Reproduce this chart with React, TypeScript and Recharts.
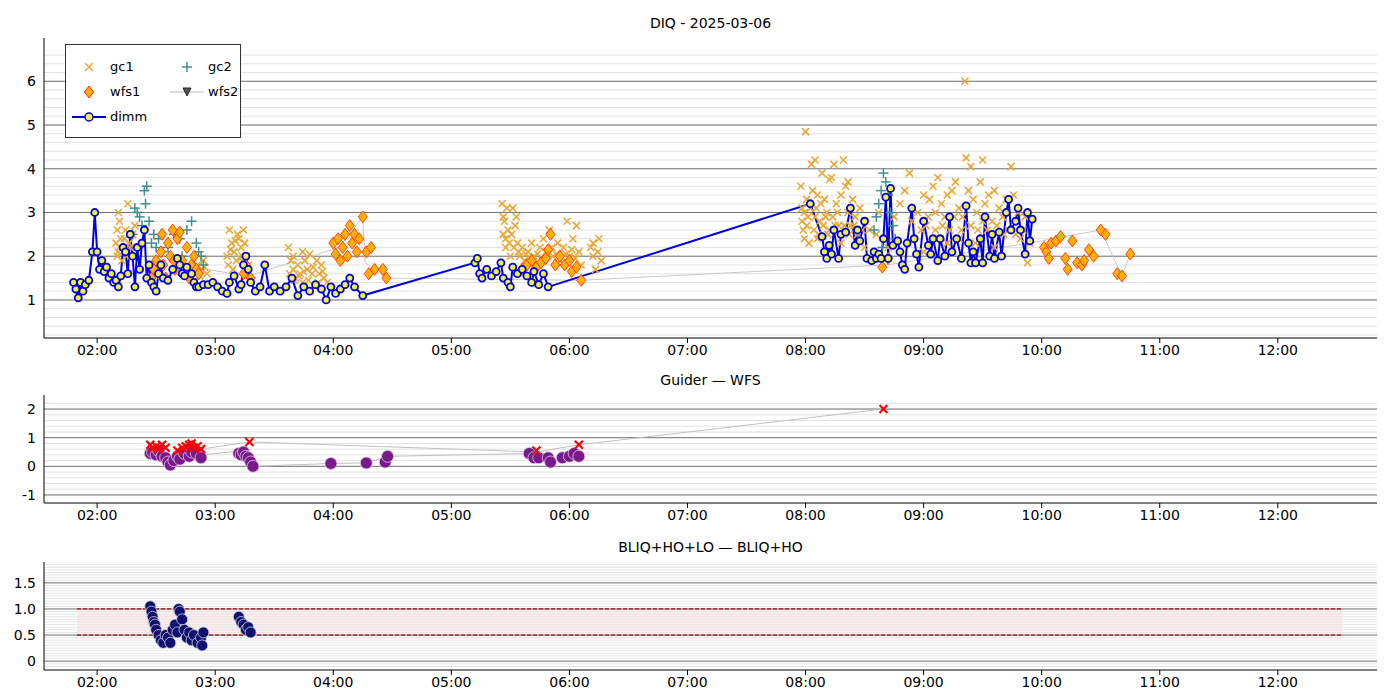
import React from 'react';
import {
  ComposedChart,
  Scatter,
  Line,
  XAxis,
  YAxis,
  ReferenceLine,
  ReferenceArea,
} from 'recharts';

type P = [number, number];

const hourTicks = [2, 3, 4, 5, 6, 7, 8, 9, 10, 11, 12];

const dimm: P[] = [
  [1.8, 1.4], [1.82, 1.25], [1.84, 1.05], [1.86, 1.4], [1.88, 1.2], [1.9, 1.35], [1.93, 1.45], [1.96, 2.1], [1.98, 3.0],
  [2.0, 2.1], [2.02, 1.7], [2.04, 1.9], [2.06, 1.65], [2.08, 1.75], [2.1, 1.5], [2.12, 1.6], [2.14, 1.4], [2.16, 1.45],
  [2.18, 1.3], [2.2, 1.55], [2.22, 2.2], [2.24, 2.1], [2.26, 1.6], [2.28, 2.5], [2.3, 2.0], [2.32, 1.3], [2.34, 2.2],
  [2.36, 1.7], [2.38, 2.3], [2.4, 2.6], [2.42, 1.5], [2.44, 1.8], [2.46, 1.4], [2.48, 1.3], [2.5, 1.2], [2.52, 1.6],
  [2.54, 1.8], [2.56, 1.5], [2.6, 1.45], [2.64, 1.7], [2.68, 1.95], [2.7, 1.8], [2.72, 1.6], [2.74, 1.55], [2.76, 1.75],
  [2.8, 1.6], [2.82, 1.4], [2.84, 1.3], [2.86, 1.3], [2.9, 1.35], [2.94, 1.35], [2.98, 1.4], [3.02, 1.3], [3.06, 1.2],
  [3.1, 1.15], [3.12, 1.4], [3.16, 1.55], [3.2, 1.25], [3.22, 1.35], [3.24, 1.8], [3.26, 2.0], [3.28, 1.7], [3.3, 1.4],
  [3.34, 1.2], [3.38, 1.3], [3.42, 1.8], [3.46, 1.2], [3.5, 1.3], [3.55, 1.2], [3.6, 1.3], [3.65, 1.5], [3.7, 1.1],
  [3.75, 1.3], [3.8, 1.2], [3.85, 1.35], [3.9, 1.25], [3.94, 1.0], [3.98, 1.3], [4.02, 1.15], [4.06, 1.25], [4.1, 1.35],
  [4.14, 1.5], [4.18, 1.3], [4.25, 1.1], [5.2, 1.85], [5.22, 1.95], [5.24, 1.6], [5.26, 1.5], [5.3, 1.7], [5.34, 1.55],
  [5.38, 1.65], [5.42, 1.85], [5.44, 1.5], [5.48, 1.4], [5.5, 1.3], [5.52, 1.75], [5.56, 1.6], [5.6, 1.7], [5.64, 1.55],
  [5.68, 1.4], [5.7, 1.65], [5.74, 1.35], [5.78, 1.6], [5.82, 1.3], [8.04, 3.2], [8.14, 2.45], [8.16, 2.1], [8.18, 1.95],
  [8.2, 2.25], [8.22, 2.05], [8.24, 2.6], [8.28, 1.95], [8.3, 2.5], [8.34, 2.55], [8.38, 3.1], [8.42, 2.25], [8.44, 2.6],
  [8.46, 2.35], [8.5, 2.8], [8.52, 1.95], [8.56, 1.9], [8.58, 2.1], [8.6, 1.95], [8.62, 2.05], [8.64, 1.95], [8.66, 2.4],
  [8.68, 3.35], [8.7, 1.95], [8.72, 3.55], [8.74, 2.25], [8.78, 2.35], [8.8, 2.1], [8.82, 1.8], [8.84, 1.7], [8.86, 2.3],
  [8.9, 3.1], [8.92, 2.4], [8.94, 2.05], [8.96, 1.75], [9.0, 2.8], [9.04, 2.25], [9.06, 2.05], [9.08, 2.4], [9.12, 1.9],
  [9.14, 2.4], [9.18, 2.0], [9.22, 2.9], [9.24, 2.1], [9.28, 2.4], [9.32, 1.95], [9.36, 3.15], [9.38, 2.3], [9.4, 1.85],
  [9.42, 2.1], [9.44, 1.85], [9.48, 2.4], [9.5, 1.85], [9.52, 2.9], [9.56, 2.0], [9.58, 2.5], [9.6, 1.95], [9.64, 2.55],
  [9.66, 2.0], [9.7, 3.0], [9.72, 3.3], [9.74, 2.6], [9.78, 2.8], [9.8, 3.1], [9.82, 2.6], [9.86, 2.05], [9.88, 3.0],
  [9.9, 2.35], [9.92, 2.85],
];

const gc1: P[] = [
  [2.16, 2.3], [2.17, 2.6], [2.18, 3.0], [2.19, 2.8], [2.2, 2.4], [2.22, 2.1], [2.24, 2.6], [2.26, 3.2], [2.28, 2.2],
  [2.3, 2.5], [2.32, 2.7], [2.18, 2.1], [2.21, 1.9], [2.17, 2.0], [2.19, 2.2], [2.23, 2.4], [2.25, 2.0], [2.27, 2.3],
  [2.85, 1.8], [2.88, 1.7], [2.9, 1.9], [2.93, 1.6], [2.87, 1.55], [2.91, 1.75],
  [3.1, 2.0], [3.12, 2.6], [3.14, 2.3], [3.16, 2.1], [3.18, 1.9], [3.2, 2.4], [3.22, 2.2], [3.24, 2.6], [3.26, 2.0],
  [3.28, 1.8], [3.15, 1.7], [3.19, 2.5], [3.25, 2.3], [3.11, 1.8], [3.13, 2.15], [3.17, 2.35], [3.21, 1.95], [3.23, 2.0],
  [3.62, 2.2], [3.64, 1.9], [3.66, 1.7], [3.68, 1.5], [3.7, 1.8], [3.72, 1.6], [3.74, 1.4], [3.76, 1.9], [3.78, 1.7],
  [3.8, 2.05], [3.82, 1.6], [3.84, 1.3], [3.86, 1.9], [3.88, 1.6], [3.9, 1.8], [3.92, 1.5], [3.95, 1.4], [3.66, 2.0], [3.74, 2.1],
  [3.63, 1.6], [3.67, 1.45], [3.71, 1.55], [3.75, 1.65], [3.79, 1.45], [3.83, 1.75], [3.87, 1.4], [3.91, 1.65],
  [5.43, 3.2], [5.45, 2.8], [5.47, 3.1], [5.44, 2.5], [5.46, 2.2], [5.48, 2.6], [5.5, 2.0], [5.52, 3.1], [5.54, 2.7],
  [5.56, 2.3], [5.58, 2.0], [5.6, 2.2], [5.62, 1.9], [5.65, 2.1], [5.68, 2.3], [5.7, 2.0], [5.72, 1.8], [5.75, 2.2],
  [5.78, 2.4], [5.8, 2.1], [5.83, 2.6], [5.86, 2.0], [5.9, 2.3], [5.92, 1.9], [5.95, 2.2], [5.98, 2.8], [6.0, 2.0],
  [6.03, 2.4], [6.06, 2.7], [6.08, 2.1], [6.1, 1.8], [6.18, 2.2], [6.2, 2.0], [6.22, 1.7], [6.25, 2.4], [6.27, 1.9],
  [5.44, 2.9], [5.46, 2.4], [5.49, 2.3], [5.51, 2.5], [5.53, 2.2], [5.55, 2.9], [5.57, 2.1], [5.63, 2.05], [5.67, 1.95],
  [5.73, 2.05], [5.77, 1.9], [5.85, 2.2], [5.89, 2.05], [5.97, 2.05], [6.02, 2.15], [6.05, 1.95], [6.2, 2.3], [6.24, 2.1],
  [7.96, 3.6], [7.97, 3.1], [7.98, 2.6], [7.99, 2.4], [8.0, 4.85], [8.01, 3.3], [8.02, 2.9], [8.03, 2.3], [8.05, 4.1],
  [8.06, 3.5], [8.08, 4.2], [8.1, 3.4], [8.12, 2.8], [8.14, 3.9], [8.16, 3.3], [8.18, 3.0], [8.2, 3.75], [8.22, 3.8],
  [8.24, 4.1], [8.26, 3.2], [8.28, 2.7], [8.3, 3.4], [8.32, 4.2], [8.34, 3.6], [8.36, 3.0], [8.38, 2.7], [8.4, 3.3],
  [8.42, 2.9], [8.44, 2.5], [8.46, 3.1], [8.5, 2.8], [8.54, 2.6], [8.6, 2.5], [8.62, 3.0], [8.75, 2.9], [8.8, 3.2],
  [8.84, 3.5], [8.88, 3.9], [8.9, 2.8], [8.95, 3.0], [9.0, 3.4], [9.02, 2.7], [9.05, 3.3], [9.08, 3.6], [9.1, 3.0],
  [9.12, 3.8], [9.15, 3.2], [9.18, 2.9], [9.2, 3.4], [9.24, 3.5], [9.27, 3.7], [9.3, 3.1], [9.33, 2.9], [9.35, 6.0],
  [9.36, 4.25], [9.38, 3.5], [9.4, 4.05], [9.42, 3.3], [9.45, 3.0], [9.48, 3.7], [9.5, 4.2], [9.52, 3.2], [9.55, 3.4],
  [9.58, 2.8], [9.6, 3.5], [9.64, 3.1], [9.67, 2.9], [9.7, 3.3], [9.74, 4.05], [9.76, 3.4], [9.8, 3.0], [9.84, 2.6],
  [9.86, 2.9], [9.88, 1.85], [9.9, 2.3], [8.1, 2.4], [8.3, 2.3], [8.5, 2.2], [9.2, 2.3], [9.6, 2.2], [9.0, 2.1],
  [8.7, 2.2], [8.08, 2.9], [8.2, 2.6], [8.36, 3.7],
  [7.97, 2.8], [7.99, 3.0], [8.01, 2.7], [8.04, 3.1], [8.07, 2.6], [8.09, 3.1], [8.11, 2.5], [8.13, 3.2], [8.15, 2.7],
  [8.17, 2.9], [8.19, 2.5], [8.23, 2.9], [8.25, 2.7], [8.27, 3.0], [8.33, 2.7], [8.37, 2.5], [8.41, 2.7], [8.48, 2.6],
  [8.98, 2.6], [9.04, 2.9], [9.1, 2.6], [9.16, 2.7], [9.22, 2.6], [9.26, 2.9], [9.32, 2.6], [9.4, 2.7], [9.46, 2.6],
  [9.5, 2.8], [9.54, 2.6], [9.62, 2.7], [9.68, 2.5], [9.72, 2.6], [9.78, 2.5], [9.82, 2.4], [9.3, 2.4], [9.44, 2.3],
];

const gc2: P[] = [
  [2.3, 2.5], [2.32, 3.1], [2.34, 3.0], [2.36, 2.9], [2.38, 2.7], [2.4, 3.5], [2.42, 3.6], [2.41, 3.2], [2.44, 2.8],
  [2.46, 2.3], [2.48, 2.5], [2.5, 2.2], [2.52, 2.4], [2.55, 2.1], [2.6, 2.2], [2.65, 2.5], [2.7, 2.4], [2.72, 2.0],
  [2.76, 2.6], [2.8, 2.8], [2.84, 2.3], [2.86, 2.1], [2.88, 2.0], [2.9, 1.8], [8.58, 2.6], [8.6, 2.9], [8.62, 3.2],
  [8.64, 3.5], [8.66, 3.9], [8.68, 3.7], [8.7, 3.4], [8.72, 3.0], [8.74, 2.7], [8.76, 2.4], [8.65, 2.2],
];

const wfs1: P[] = [
  [2.46, 1.5], [2.48, 1.7], [2.5, 1.9], [2.52, 1.6], [2.54, 2.1], [2.56, 1.8], [2.58, 1.5], [2.6, 2.3], [2.62, 2.0],
  [2.64, 2.6], [2.66, 1.7], [2.68, 2.4], [2.7, 2.55], [2.72, 1.9], [2.74, 1.6], [2.76, 2.2], [2.78, 1.5], [2.8, 1.8],
  [2.82, 2.0], [2.84, 1.7], [2.86, 1.6], [2.55, 2.5], [2.65, 1.9], [3.24, 1.6], [3.26, 1.8], [3.3, 1.5],
  [4.0, 2.3], [4.02, 2.05], [4.04, 2.4], [4.06, 1.9], [4.08, 2.2], [4.1, 2.5], [4.12, 2.0], [4.14, 2.7], [4.16, 2.3],
  [4.18, 2.5], [4.2, 2.1], [4.22, 2.4], [4.25, 2.9], [4.28, 2.1], [4.3, 1.6], [4.32, 2.2], [4.35, 1.7], [4.42, 1.7],
  [4.45, 1.5], [5.6, 1.7], [5.64, 1.8], [5.68, 1.9], [5.72, 1.75], [5.76, 1.85], [5.8, 1.95], [5.82, 2.15],
  [5.84, 2.5], [5.88, 1.8], [5.92, 2.0], [5.96, 1.8], [6.0, 1.9], [6.02, 1.65], [6.06, 1.75], [6.1, 1.45],
  [8.65, 1.75], [8.7, 1.95], [10.02, 2.2], [10.04, 2.1], [10.06, 1.95], [10.08, 2.3], [10.12, 2.35], [10.16, 2.45],
  [10.2, 1.95], [10.22, 1.7], [10.26, 2.35], [10.3, 1.85], [10.34, 1.8], [10.36, 1.9], [10.4, 2.15], [10.44, 2.0],
  [10.5, 2.6], [10.54, 2.5], [10.64, 1.6], [10.68, 1.55], [10.75, 2.05],
];

const wfs2: P[] = [
  [2.5, 1.5], [2.92, 1.7], [3.28, 1.55], [4.05, 2.2], [4.25, 2.9], [4.27, 1.85], [4.45, 1.5], [6.1, 1.45],
  [8.68, 1.8], [9.9, 2.3], [10.5, 2.6], [10.68, 1.55], [10.75, 2.05],
];

const guider: P[] = [
  [2.45, 0.45], [2.47, 0.5], [2.5, 0.4], [2.52, 0.55], [2.55, 0.35], [2.58, 0.3], [2.6, 0.15], [2.62, 0.05],
  [2.65, 0.2], [2.68, 0.35], [2.7, 0.25], [2.74, 0.45], [2.78, 0.35], [2.8, 0.5], [2.84, 0.45], [2.88, 0.3],
  [3.2, 0.45], [3.22, 0.4], [3.24, 0.5], [3.26, 0.35], [3.28, 0.3], [3.3, 0.15], [3.32, 0.0], [3.98, 0.1],
  [4.28, 0.12], [4.44, 0.15], [4.46, 0.35], [5.66, 0.45], [5.7, 0.3], [5.74, 0.3], [5.82, 0.3], [5.84, 0.15],
  [5.94, 0.3], [6.0, 0.35], [6.04, 0.45], [6.08, 0.35],
];
const guiderPath: P[] = [[2.88, 0.4], [3.25, 0.55], [3.32, 0.0], [3.98, 0.1], [4.28, 0.12], [4.46, 0.35], [5.7, 0.45]];

const wfsDiff: P[] = [
  [2.45, 0.75], [2.47, 0.65], [2.5, 0.7], [2.52, 0.6], [2.55, 0.75], [2.58, 0.65], [2.68, 0.55], [2.72, 0.65],
  [2.75, 0.7], [2.78, 0.75], [2.8, 0.8], [2.82, 0.65], [2.85, 0.7], [2.88, 0.6], [3.29, 0.85], [5.72, 0.55],
  [6.08, 0.75], [8.66, 2.0],
];
const wfsPath: P[] = [[2.88, 0.6], [3.29, 0.85], [5.72, 0.5], [6.08, 0.75], [8.66, 2.0]];

const bliq: P[] = [
  [2.45, 1.05], [2.46, 0.95], [2.47, 0.85], [2.48, 0.75], [2.49, 0.7], [2.5, 0.6], [2.52, 0.5], [2.54, 0.4],
  [2.56, 0.35], [2.58, 0.5], [2.6, 0.45], [2.62, 0.35], [2.64, 0.6], [2.66, 0.7], [2.68, 0.55], [2.69, 1.0],
  [2.7, 0.95], [2.72, 0.8], [2.74, 0.6], [2.76, 0.45], [2.78, 0.55], [2.8, 0.4], [2.82, 0.5], [2.85, 0.35],
  [2.88, 0.45], [2.9, 0.55], [2.89, 0.3], [3.2, 0.85], [3.22, 0.75], [3.24, 0.7], [3.26, 0.6], [3.28, 0.65], [3.3, 0.55],
];

const toPts = (a: P[]) => a.map(([t, v]) => ({ t, v }));
const fmtHour = (h: number) => `${String(h).padStart(2, '0')}:00`;
const FONT = 'DejaVu Sans, sans-serif';
const tickStyle = { fontSize: 14, fill: '#000', fontFamily: FONT };

const XMark = (color: string, size: number, w: number) => (p: any) => (
  <g stroke={color} strokeWidth={w}>
    <line x1={p.cx - size} y1={p.cy - size} x2={p.cx + size} y2={p.cy + size} />
    <line x1={p.cx - size} y1={p.cy + size} x2={p.cx + size} y2={p.cy - size} />
  </g>
);
const PlusMark = (p: any) => (
  <g stroke="#3f8f8f" strokeWidth={1.5}>
    <line x1={p.cx - 5} y1={p.cy} x2={p.cx + 5} y2={p.cy} />
    <line x1={p.cx} y1={p.cy - 5} x2={p.cx} y2={p.cy + 5} />
  </g>
);
const Diamond = (p: any) => (
  <path d={`M${p.cx},${p.cy - 6}L${p.cx + 4.5},${p.cy}L${p.cx},${p.cy + 6}L${p.cx - 4.5},${p.cy}Z`}
    fill="#ffb000" stroke="#ff2000" strokeWidth={0.8} />
);
const Dot = (fill: string, stroke: string, r: number) => (p: any) => (
  <circle cx={p.cx} cy={p.cy} r={r} fill={fill} stroke={stroke} strokeWidth={0.8} />
);

function minorLines(lo: number, hi: number, step: number) {
  const out: number[] = [];
  for (let i = Math.ceil(lo / step); i * step <= hi; i++) out.push(+(i * step).toFixed(3));
  return out;
}

const xAxis = (h: number) => (
  <XAxis type="number" dataKey="t" domain={[1.55, 12.84]} ticks={hourTicks} tickFormatter={fmtHour}
    allowDataOverflow height={h} tick={tickStyle} stroke="#000" tickLine={{ stroke: '#000' }} tickSize={5} />
);

const Title = ({ top, text }: { top: number; text: string }) => (
  <div style={{ position: 'absolute', top, left: 44, width: 1333, textAlign: 'center', fontFamily: FONT, fontSize: 14 }}>
    {text}
  </div>
);

const LegendBox = () => {
  const item = (sym: React.ReactNode, label: string) => (
    <div style={{ display: 'flex', alignItems: 'center', height: 25 }}>
      <svg width={34} height={14}>{sym}</svg>
      <span style={{ marginLeft: 4 }}>{label}</span>
    </div>
  );
  return (
    <div style={{ position: 'absolute', left: 65, top: 44, width: 176, height: 94, border: '1px solid #333',
      background: '#fff', fontFamily: FONT, fontSize: 13, padding: '9px 0 0 6px', boxSizing: 'border-box' }}>
      <div style={{ display: 'flex' }}>
        <div style={{ width: 98 }}>
          {item(<g stroke="#e8a838" strokeWidth={1.5}><line x1={13} y1={3} x2={21} y2={11} /><line x1={13} y1={11} x2={21} y2={3} /></g>, 'gc1')}
          {item(<path d="M17,1L21.5,7L17,13L12.5,7Z" fill="#ffb000" stroke="#ff2000" />, 'wfs1')}
        </div>
        <div>
          {item(<g stroke="#3f8f8f" strokeWidth={1.5}><line x1={12} y1={7} x2={22} y2={7} /><line x1={17} y1={2} x2={17} y2={12} /></g>, 'gc2')}
          {item(<g><line x1={0} y1={7} x2={34} y2={7} stroke="#bbb" /><path d="M13,3L21,3L17,11Z" fill="#555" stroke="#222" /></g>, 'wfs2')}
        </div>
      </div>
      {item(<g><line x1={0} y1={7} x2={34} y2={7} stroke="#0000dd" strokeWidth={2} /><circle cx={17} cy={7} r={4} fill="#f0f040" stroke="#0000dd" strokeWidth={1.5} /></g>, 'dimm')}
    </div>
  );
};

export default function App() {
  return (
    <div style={{ position: 'absolute', left: 0, top: 0, width: 1400, height: 700, background: '#fff' }}>
      <Title top={15} text="DIQ - 2025-03-06" />
      <div style={{ position: 'absolute', left: 0, top: 0 }}>
        <ComposedChart width={1400} height={365} margin={{ top: 38, right: 23, bottom: 0, left: 4 }}>
          {minorLines(0.2, 6.8, 0.2).map((y) => (
            <ReferenceLine key={y} y={y} stroke="#e2e2e2" strokeWidth={1} />
          ))}
          {[1, 2, 3, 4, 5, 6].map((y) => (
            <ReferenceLine key={'m' + y} y={y} stroke="#777" strokeWidth={1} />
          ))}
          {xAxis(27)}
          <YAxis type="number" dataKey="v" domain={[0.13, 6.99]} ticks={[1, 2, 3, 4, 5, 6]} width={40}
            allowDataOverflow tick={tickStyle} stroke="#000" tickLine={false} />
          <Line data={toPts(wfs2)} dataKey="v" stroke="#c8c8c8" strokeWidth={1} dot={false} isAnimationActive={false} />
          <Scatter data={toPts(gc1)} fill="#e8a838" shape={XMark('#e8a838', 3.5, 1.6)} isAnimationActive={false} />
          <Scatter data={toPts(gc2)} fill="#3f8f8f" shape={PlusMark} isAnimationActive={false} />
          <Scatter data={toPts(wfs1)} fill="#ffb000" shape={Diamond} isAnimationActive={false} />
          <Line data={toPts(dimm)} dataKey="v" stroke="#0000dd" strokeWidth={2}
            dot={{ r: 3.5, fill: '#f0f040', stroke: '#0000dd', strokeWidth: 1.8 }} isAnimationActive={false} />
        </ComposedChart>
      </div>
      <LegendBox />

      <Title top={372} text="Guider — WFS" />
      <div style={{ position: 'absolute', left: 0, top: 360 }}>
        <ComposedChart width={1400} height={170} margin={{ top: 35, right: 23, bottom: 0, left: 4 }}>
          {minorLines(-1.2, 2.4, 0.2).map((y) => (
            <ReferenceLine key={y} y={y} stroke="#e2e2e2" strokeWidth={1} />
          ))}
          {[-1, 0, 1, 2].map((y) => (
            <ReferenceLine key={'m' + y} y={y} stroke="#777" strokeWidth={1} />
          ))}
          {xAxis(27)}
          <YAxis type="number" dataKey="v" domain={[-1.28, 2.49]} ticks={[-1, 0, 1, 2]} width={40}
            allowDataOverflow tick={tickStyle} stroke="#000" tickLine={false} />
          <Line data={toPts(guiderPath)} dataKey="v" stroke="#c0c0c0" strokeWidth={1} dot={false} isAnimationActive={false} />
          <Line data={toPts(wfsPath)} dataKey="v" stroke="#c0c0c0" strokeWidth={1} dot={false} isAnimationActive={false} />
          <Scatter data={toPts(guider)} fill="#7a1a8a" shape={Dot('#7a1a8a', '#e0c8e8', 6)} isAnimationActive={false} />
          <Scatter data={toPts(wfsDiff)} fill="#ff0000" shape={XMark('#ff0000', 4, 2.2)} isAnimationActive={false} />
        </ComposedChart>
      </div>

      <Title top={539} text="BLIQ+HO+LO — BLIQ+HO" />
      <div style={{ position: 'absolute', left: 0, top: 530 }}>
        <ComposedChart width={1400} height={170} margin={{ top: 32, right: 23, bottom: 0, left: 4 }}>
          {minorLines(-0.15, 1.9, 0.05).map((y) => (
            <ReferenceLine key={y} y={y} stroke="#e6e6e6" strokeWidth={1} />
          ))}
          {[0, 0.5, 1, 1.5].map((y) => (
            <ReferenceLine key={'m' + y} y={y} stroke="#777" strokeWidth={1} />
          ))}
          <ReferenceArea x1={1.83} x2={12.55} y1={0.5} y2={1.0} fill="#f4c0c0" fillOpacity={0.3} stroke="none" />
          <ReferenceLine segment={[{ x: 1.83, y: 1.0 }, { x: 12.55, y: 1.0 }]} stroke="#a01010" strokeWidth={1.2} strokeDasharray="4 2" />
          <ReferenceLine segment={[{ x: 1.83, y: 0.5 }, { x: 12.55, y: 0.5 }]} stroke="#a01010" strokeWidth={1.2} strokeDasharray="4 2" />
          {xAxis(30)}
          <YAxis type="number" dataKey="v" domain={[-0.17, 1.9]} ticks={[0, 0.5, 1, 1.5]} width={40}
            tickFormatter={(v: number) => (v === 0 ? '0' : v.toFixed(1))}
            allowDataOverflow tick={tickStyle} stroke="#000" tickLine={false} />
          <Scatter data={toPts(bliq)} fill="#101070" shape={Dot('#101070', '#d0d0e0', 5.5)} isAnimationActive={false} />
        </ComposedChart>
      </div>
    </div>
  );
}
